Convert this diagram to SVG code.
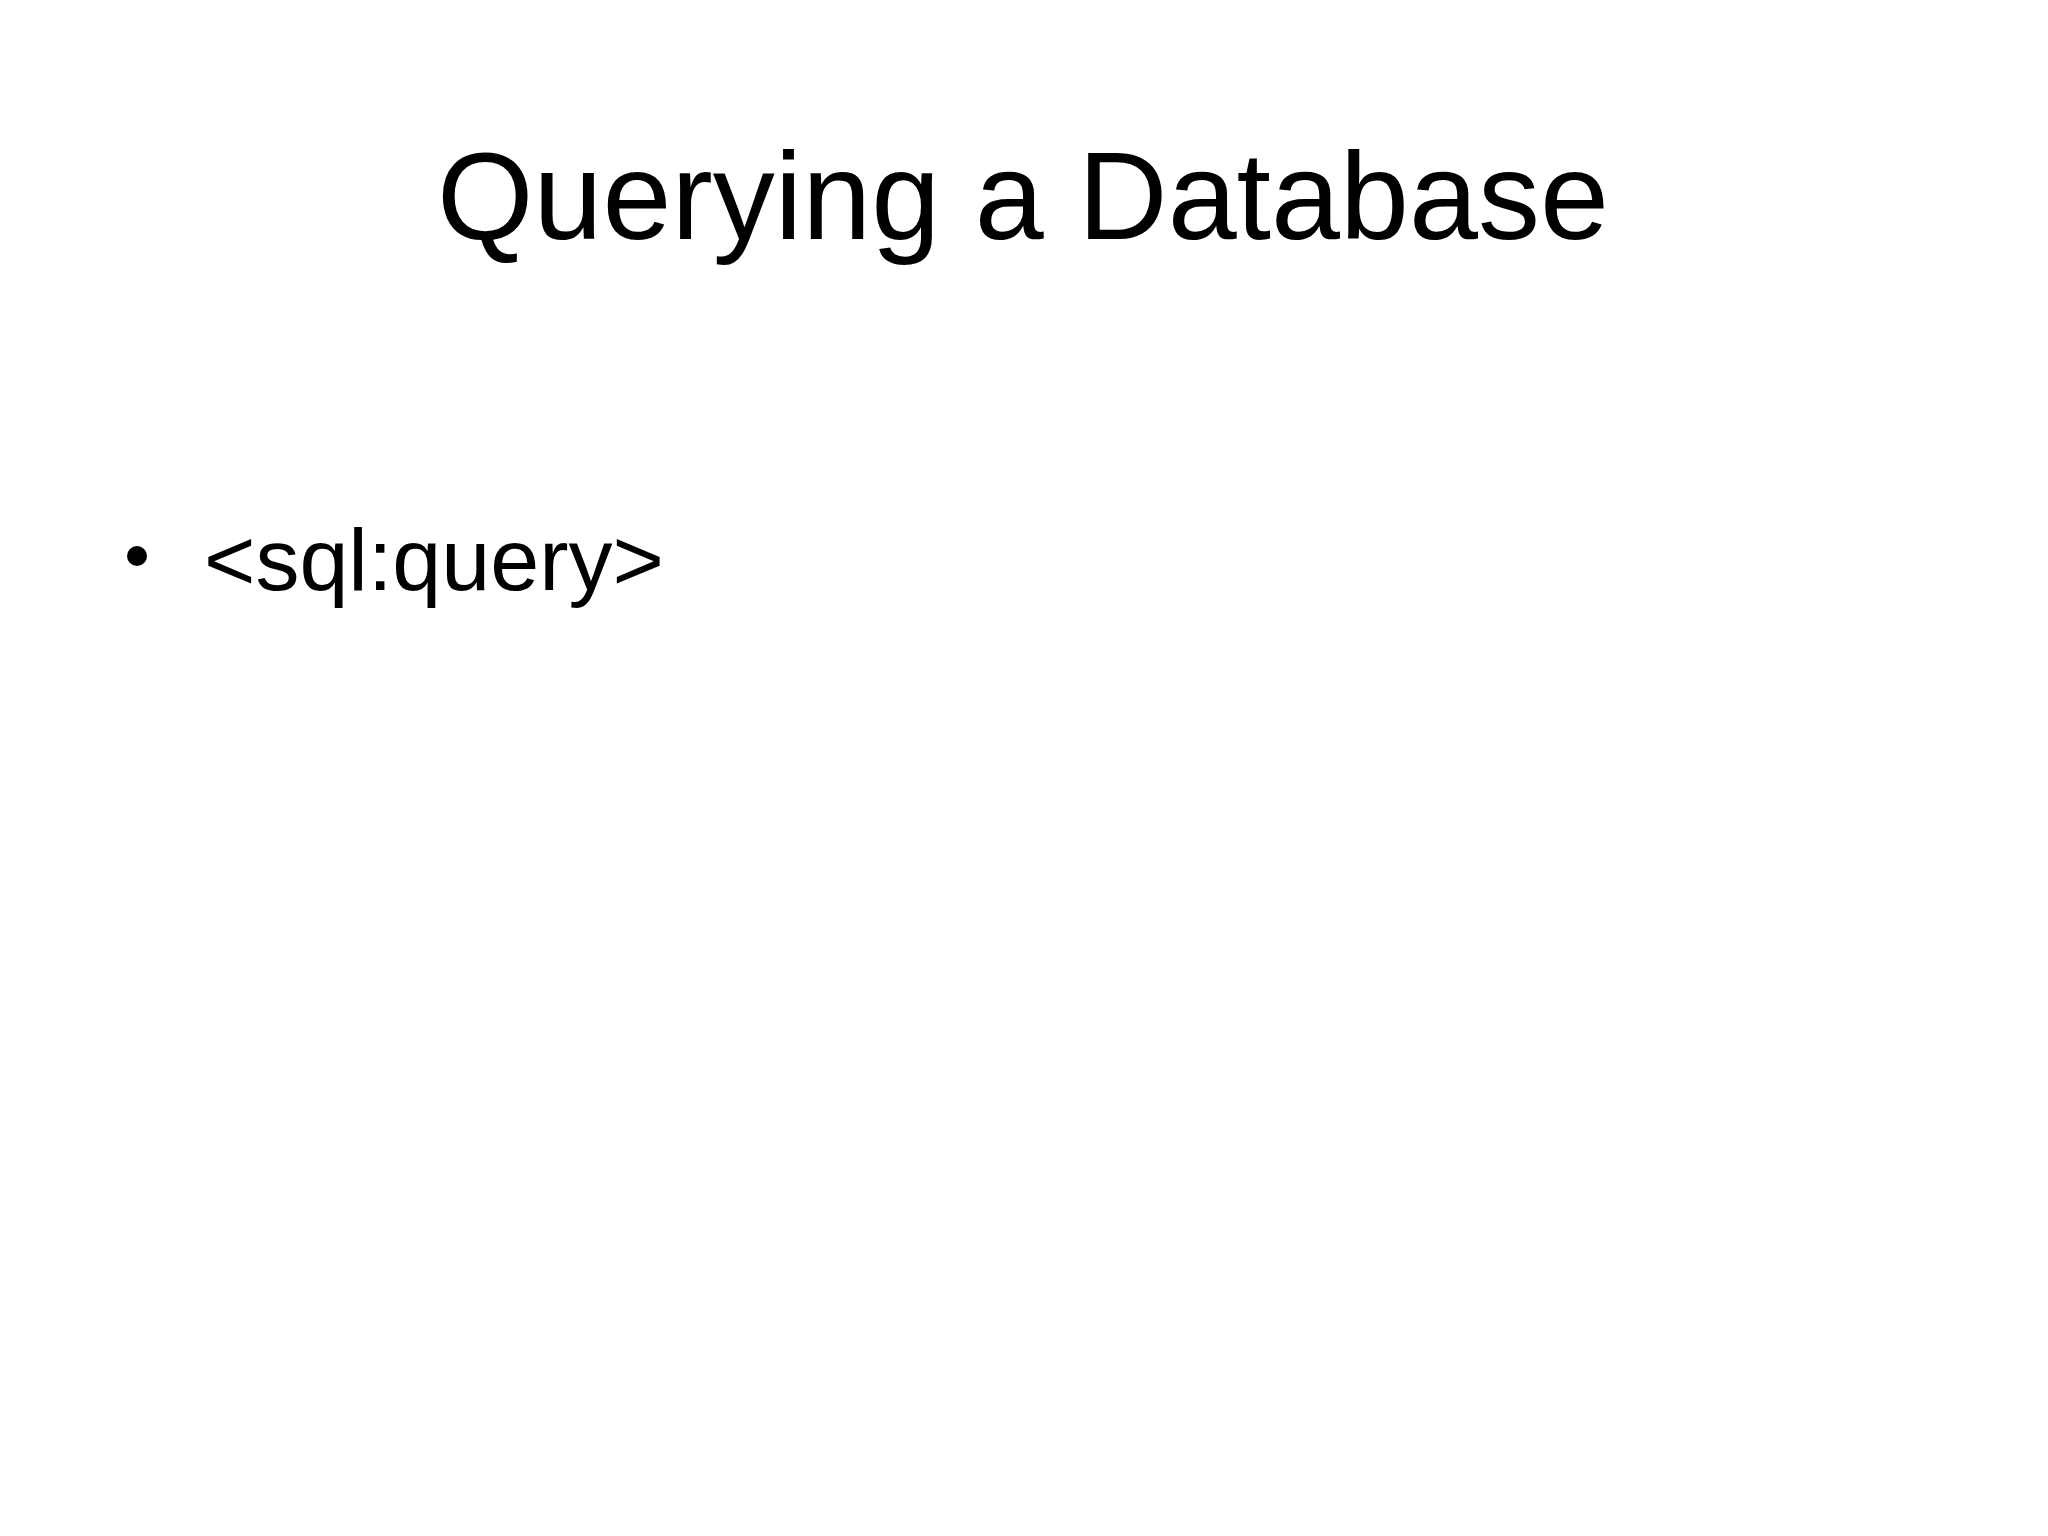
<svg xmlns="http://www.w3.org/2000/svg" width="2048" height="1536" viewBox="0 0 2048 1536">
<style>text{font-family:"Liberation Sans",Arial,sans-serif;fill:#000}</style>
<rect width="2048" height="1536" fill="#fff"/>
<g id="title"><text x="1023" y="239" font-size="124" text-anchor="middle">Querying a Database</text></g>
<g id="bullet1"><circle cx="137" cy="556" r="10" fill="#000"/><text x="204" y="590" font-size="88">&lt;sql:query&gt;</text></g>
<g id="connectors"/>
</svg>
